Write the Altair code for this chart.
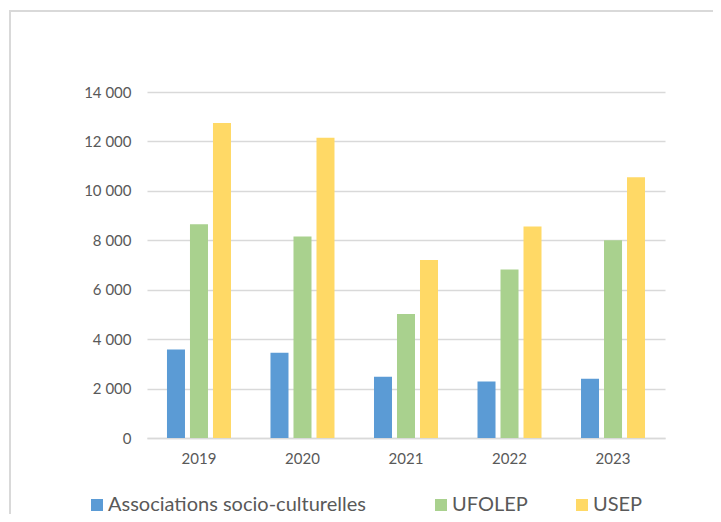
import altair as alt
import pandas as pd

years = ["2019", "2020", "2021", "2022", "2023"]
series = ["Associations socio-culturelles", "UFOLEP", "USEP"]
assoc = [3580, 3450, 2480, 2290, 2400]
ufolep = [8650, 8150, 5020, 6820, 8000]
usep = [12750, 12150, 7200, 8560, 10550]
colors = ["#5b9bd5", "#a9d18e", "#ffd966"]
y_ticks = [0, 2000, 4000, 6000, 8000, 10000, 12000, 14000]

rows = []
for s, vals in zip(series, [assoc, ufolep, usep]):
    for yr, v in zip(years, vals):
        rows.append({"year": yr, "series": s, "value": v})
df = pd.DataFrame(rows)

FONT = "Lato"
GREY = "#595959"
PAD = "\u00a0" * 4 + "\u200b"

bars = alt.Chart(df).mark_bar().encode(
    x=alt.X(
        "year:N",
        sort=years,
        scale=alt.Scale(paddingInner=0.3816, paddingOuter=0.193),
        axis=alt.Axis(
            title=None, labelAngle=0, ticks=False, domain=True,
            domainColor="#d9d9d9", domainWidth=1.5, grid=False,
            labelFont=FONT, labelFontSize=15, labelColor=GREY, labelPadding=13,
        ),
    ),
    xOffset=alt.XOffset(
        "series:N", sort=series,
        scale=alt.Scale(paddingInner=0.217, paddingOuter=0),
    ),
    y=alt.Y(
        "value:Q",
        scale=alt.Scale(domain=[0, 14000], nice=False),
        axis=alt.Axis(
            title=None, values=y_ticks, ticks=False, domain=False,
            grid=True, gridColor="#d9d9d9", gridWidth=1.5,
            labelFont=FONT, labelFontSize=15, labelColor=GREY, labelPadding=16,
            labelExpr="replace(format(datum.value, ','), ',', ' ')",
        ),
    ),
    color=alt.Color(
        "series:N", sort=series,
        scale=alt.Scale(domain=series, range=colors),
        legend=alt.Legend(
            title=None, orient="none", direction="horizontal", columns=3,
            legendX=-60, legendY=403, padding=0,
            symbolType="square", symbolSize=144, symbolStrokeWidth=0,
            labelFont=FONT, labelFontSize=20, labelColor=GREY, labelLimit=400,
            labelOffset=1, columnPadding=44,
            labelExpr="datum.value == 'Associations socio-culturelles' ? datum.value + '" + PAD + "' : datum.value",
        ),
    ),
)

frame = alt.Chart(pd.DataFrame({"a": [0]})).mark_rect(
    fillOpacity=0, stroke="#d9d9d9", strokeWidth=2
).encode(
    x=alt.value(-137), x2=alt.value(567), y=alt.value(-81), y2=alt.value(450)
)

chart = alt.layer(frame, bars).properties(
    width=518, height=346,
    autosize="none",
    padding={"left": 139, "top": 84, "right": 48, "bottom": 76},
).configure_view(stroke=None)

chart.save("out.html", embed_options={"renderer": "svg", "actions": False})
